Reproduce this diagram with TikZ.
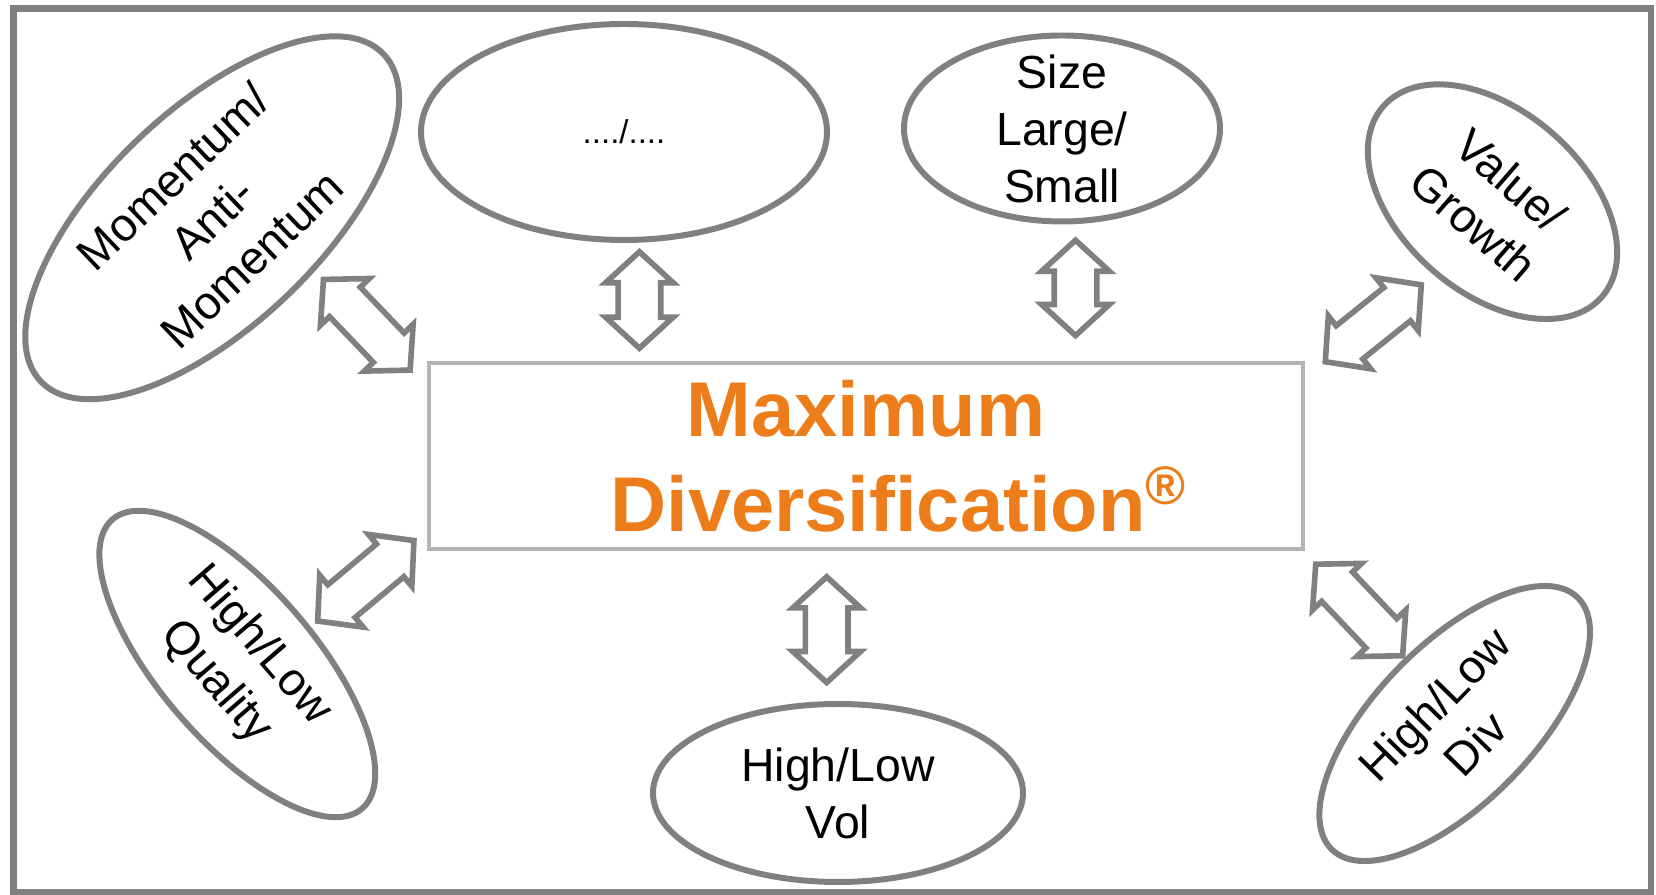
\documentclass[tikz,border=0pt]{standalone}
\usepackage{fontspec}
\setmainfont{Liberation Sans}
\usetikzlibrary{shapes.geometric,shapes.arrows}

\definecolor{linegray}{RGB}{128,128,128}
\definecolor{boxgray}{RGB}{180,180,180}
\definecolor{mdorange}{RGB}{236,125,26}

\newcommand{\lblsize}{\fontsize{13.2}{16.2}\selectfont}
\newcommand{\mdsize}{\fontsize{22.1}{26.9}\selectfont}
\newcommand{\dotsize}{\fontsize{9.4}{11}\selectfont}

\tikzset{
  oval/.style={ellipse, draw=linegray, line width=1.7pt, inner sep=0pt},
  lbl/.style={align=center, font=\lblsize, inner sep=0pt},
  updown/.style={double arrow, draw=linegray, line width=1.6pt, fill=white,
    inner xsep=0pt, inner ysep=0.185cm, double arrow head extend=0.125cm,
    double arrow tip angle=95},
  mdbox/.style={draw=boxgray, line width=1.3pt, inner sep=0pt,
    minimum width=8.74cm, minimum height=1.86cm, align=center,
    font=\mdsize\bfseries, text=mdorange}
}

\begin{document}
\begin{tikzpicture}
  \fill[white] (0,0) rectangle (16.56,8.95);
  \useasboundingbox (0,0) rectangle (16.56,8.95);
  \draw[linegray, line width=1.85pt] (0.135,0.03) rectangle (16.51,8.865);

  \node[mdbox] (md) at (8.66,4.39) {Maximum\\\hspace*{0.66cm}Diversification\textsuperscript{®}};

  % factors
  \node[oval, minimum width=4.74cm, minimum height=2.16cm, rotate=43.7,
    label={[lbl, rotate=43.7]center:Momentum/\\Anti-\\Momentum}] (mom) at (2.122,6.772) {};
  \node[oval, minimum width=4.06cm, minimum height=2.16cm,
    label={[font=\dotsize]center:..../....}] (other) at (6.24,7.63) {};
  \node[oval, minimum width=3.16cm, minimum height=1.86cm,
    label={[lbl]center:Size\\Large/\\Small}] (size) at (10.62,7.665) {};
  \node[oval, minimum width=2.90cm, minimum height=1.82cm, rotate=-41,
    label={[lbl, rotate=-41]center:Value/\\Growth}] (val) at (14.925,6.933) {};
  \node[oval, minimum width=3.82cm, minimum height=1.55cm, rotate=-49.2,
    label={[lbl, rotate=-49.2]center:High/Low\\Quality}] (qual) at (2.373,2.31) {};
  \node[oval, minimum width=3.70cm, minimum height=1.78cm,
    label={[lbl]center:High/Low\\Vol}] (vol) at (8.38,1.02) {};
  \node[oval, minimum width=3.52cm, minimum height=1.58cm, rotate=45.7,
    label={[lbl, rotate=45.7]center:High/Low\\Div}] (div) at (14.547,1.715) {};

  % links to the centre box
  \node[updown, minimum height=1.254cm, rotate=-46.3] (mom-md) at (3.668,5.702) {};
  \node[updown, minimum height=0.964cm, rotate=90] (other-md) at (6.394,5.95) {};
  \node[updown, minimum height=0.953cm, rotate=90] (size-md) at (10.755,6.071) {};
  \node[updown, minimum height=1.23cm, rotate=38.7] (val-md) at (13.733,5.717) {};
  \node[updown, minimum height=1.255cm, rotate=39.9] (qual-md) at (3.658,3.142) {};
  \node[updown, minimum height=1.057cm, rotate=90] (vol-md) at (8.267,2.653) {};
  \node[updown, minimum height=1.262cm, rotate=-46.5] (div-md) at (13.592,2.85) {};

\end{tikzpicture}
\end{document}
